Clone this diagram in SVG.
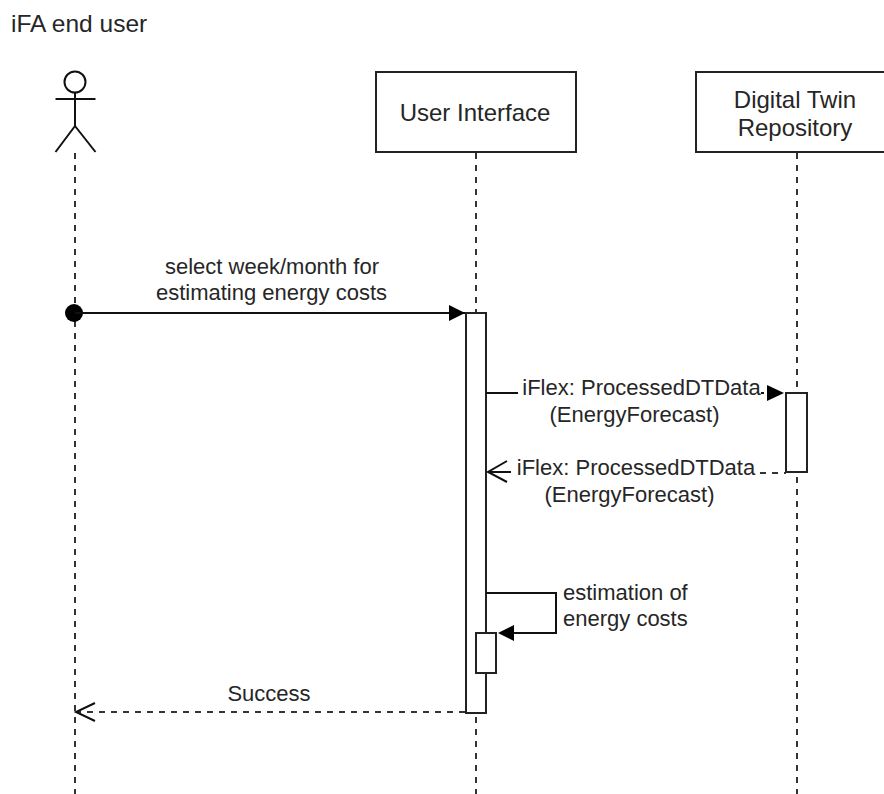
<svg xmlns="http://www.w3.org/2000/svg" width="884" height="794" viewBox="0 0 884 794">
<style>
text{font-family:"Liberation Sans",Arial,sans-serif;font-size:22px;fill:#262626}
.m{text-anchor:middle}
.big{font-size:24px}
.box{fill:#fff;stroke:#222;stroke-width:2}
.life{fill:none;stroke:#333;stroke-width:2;stroke-dasharray:6 6}
.line{fill:none;stroke:#111;stroke-width:2}
.dash{fill:none;stroke:#333;stroke-width:2;stroke-dasharray:6 6}
</style>
<defs>
<marker id="solid" markerUnits="userSpaceOnUse" markerWidth="18" markerHeight="18" refX="16" refY="9" orient="auto"><path d="M0 1L16 9L0 17Z" fill="#000"/></marker>
</defs>
<rect width="884" height="794" fill="#fff"/>
<text x="11" y="32" style="font-size:24.500px">iFA end user</text>
<g id="lifelines">
<path class="life" d="M75 153V794"/><path class="life" d="M476 153V794"/><path class="life" d="M797 153V794"/>
</g>
<g id="actor">
<circle cx="75" cy="82" r="10.5" class="line"/>
<path class="line" d="M75 92.500V126M55.500 99H95.500M75 126L55.500 152M75 126L95.500 152"/>
</g>
<g id="user-interface"><rect class="box" x="376" y="72" width="200" height="80"/><text class="m big" x="475" y="121">User Interface</text></g>
<g id="digital-twin"><rect class="box" x="696" y="72" width="189" height="80"/><text class="m big" x="795" y="108">Digital Twin</text><text class="m big" x="795" y="136">Repository</text></g>
<g id="activation-ui"><rect class="box" x="466" y="313" width="20" height="400"/></g>
<g id="activation-dt"><rect class="box" x="786" y="393" width="21" height="79"/></g>
<g id="activation-self"><rect class="box" x="476" y="633" width="20" height="40"/></g>
<g id="connectors">
<circle cx="74" cy="313" r="9" fill="#000"/>
<path class="line" d="M75 313H465" marker-end="url(#solid)"/>
<path class="line" d="M486 393H518"/>
<path class="line" d="M761 393H785" stroke-dasharray="3 3"/>
<path d="M767 385L784 393L767 401Z" fill="#000"/>
<path class="dash" d="M760 473H786"/>
<path class="line" d="M507 461L488 472L507 482"/>
<path class="line" d="M490 472H511"/>
<path class="line" d="M486 593H556V633H500"/>
<path d="M514 625L498 633L514 641Z" fill="#000"/>
<path class="dash" d="M465 712H77"/>
<path class="line" d="M95 703L76 712L95 721"/>
</g>
<g id="labels">
<text class="m" x="272" y="274">select week/month for</text>
<text class="m" x="271.500" y="300">estimating energy costs</text>
<text class="m" x="641.500" y="395">iFlex: ProcessedDTData</text>
<text class="m" x="634.500" y="422">(EnergyForecast)</text>
<text class="m" x="636" y="475">iFlex: ProcessedDTData</text>
<text class="m" x="629.500" y="502">(EnergyForecast)</text>
<text x="563" y="600">estimation of</text>
<text x="563" y="626">energy costs</text>
<text class="m" x="269" y="701">Success</text>
</g>
</svg>
